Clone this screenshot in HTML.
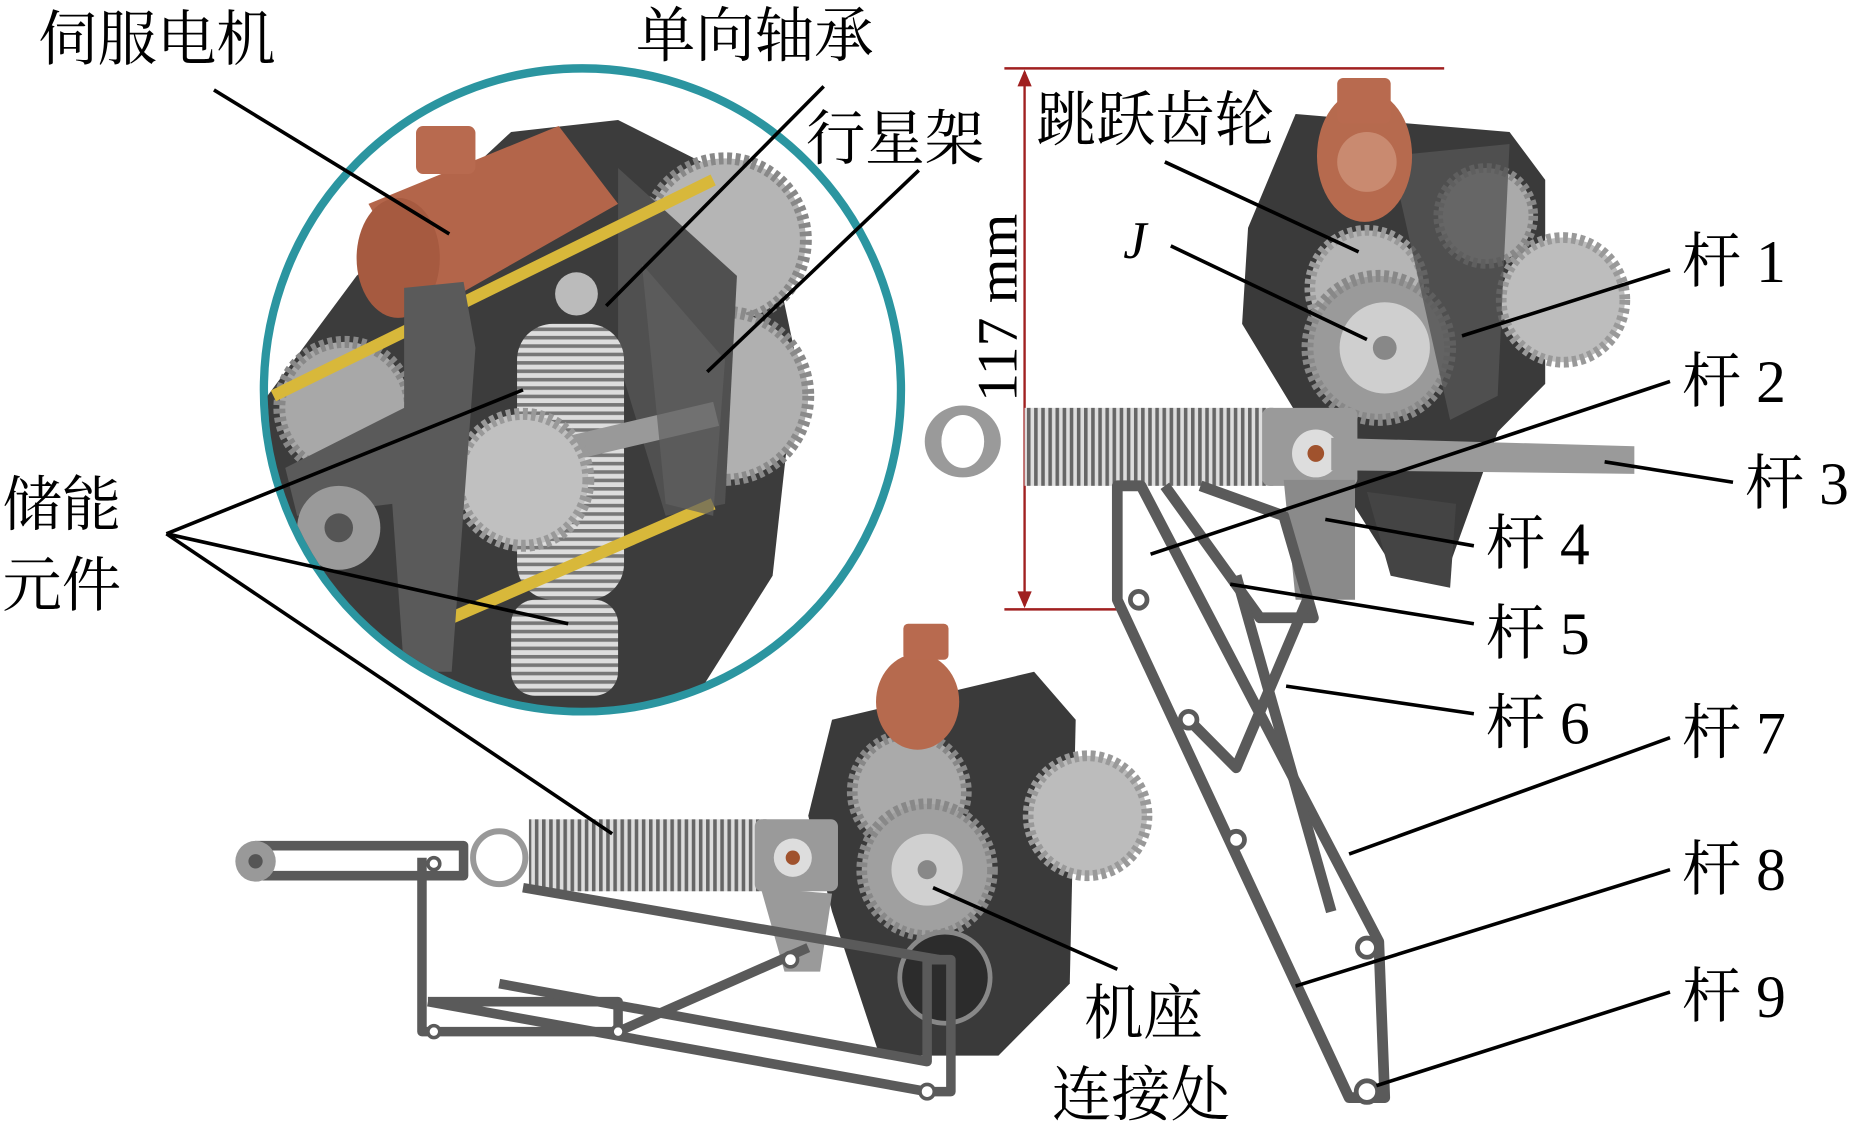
<!DOCTYPE html>
<html><head><meta charset="utf-8"><style>
html,body{margin:0;padding:0;background:#fff;width:1859px;height:1124px;overflow:hidden}
svg{display:block}
text{font-family:"Liberation Serif","Noto Serif CJK SC","Noto Sans CJK SC",serif;fill:#000}
</style></head><body>
<svg width="1859" height="1124" viewBox="0 0 1564 937" preserveAspectRatio="none" xmlns="http://www.w3.org/2000/svg">
<defs>
<pattern id="coil" width="6" height="10" patternUnits="userSpaceOnUse"><rect width="6" height="10" fill="#ddd"/><rect width="3" height="10" fill="#666"/></pattern>
<pattern id="coilv" width="10" height="7" patternUnits="userSpaceOnUse"><rect width="10" height="7" fill="#ddd"/><rect width="10" height="3" fill="#777"/></pattern>
</defs>
<rect width="1564" height="937" fill="#fff"/>

<!-- ===== Zoom circle ===== -->
<ellipse cx="490" cy="325" rx="268" ry="268" fill="#fff" stroke="#2b95a0" stroke-width="7"/>
<clipPath id="cc"><ellipse cx="490" cy="325" rx="265" ry="265"/></clipPath>
<g clip-path="url(#cc)">
  <path d="M430 110 L520 100 L640 160 L670 300 L650 480 L580 590 L380 600 L240 560 L225 330 L300 230 Z" fill="#3c3c3c"/>
  <!-- right gears -->
  <circle cx="610" cy="200" r="68" fill="#b5b5b5" stroke="#888" stroke-width="10" stroke-dasharray="4 3"/>
  <circle cx="610" cy="330" r="70" fill="#b0b0b0" stroke="#8a8a8a" stroke-width="10" stroke-dasharray="4 3"/>
  <path d="M520 140 L620 230 L610 420 L560 430 L520 300 Z" fill="#505050"/>
  <!-- left gear -->
  <circle cx="290" cy="340" r="55" fill="#a8a8a8" stroke="#888" stroke-width="10" stroke-dasharray="4 3"/>
  <!-- spring -->
  <rect x="435" y="270" width="90" height="230" fill="url(#coilv)" rx="30"/>
  <rect x="430" y="500" width="90" height="80" fill="url(#coilv)" rx="20"/>
  <!-- shaft -->
  <path d="M450 370 L600 335 L605 355 L455 390 Z" fill="#999"/>
  <!-- middle gear -->
  <circle cx="440" cy="400" r="55" fill="#c0c0c0" stroke="#999" stroke-width="10" stroke-dasharray="4 3"/>
  <!-- yellow rods -->
  <path d="M230 330 L600 150" stroke="#d8b83a" stroke-width="10"/>
  <path d="M380 515 L600 420" stroke="#d8b83a" stroke-width="10"/>
  <!-- motor -->
  <path d="M310 170 L470 105 L520 170 L360 260 Z" fill="#b3654a"/>
  <ellipse cx="335" cy="215" rx="35" ry="50" fill="#a65a40"/>
  <rect x="350" y="105" width="50" height="40" rx="6" fill="#b86a4f"/>
  <!-- frame plate -->
  <path d="M340 240 L390 235 L400 290 L380 560 L340 560 L330 420 L250 430 L240 390 L340 340 Z" fill="#5a5a5a"/>
  <circle cx="285" cy="440" r="35" fill="#9a9a9a"/><circle cx="285" cy="440" r="12" fill="#555"/>
  <circle cx="485" cy="245" r="18" fill="#bbb"/>
  <path d="M540 220 L610 300 L600 430 L560 420 Z" fill="#606060" opacity=".7"/>
</g>

<!-- ===== dimension ===== -->
<line x1="845" y1="57" x2="1215" y2="57" stroke="#a02020" stroke-width="2"/>
<line x1="845" y1="508" x2="940" y2="508" stroke="#a02020" stroke-width="2"/>
<line x1="862" y1="60" x2="862" y2="505" stroke="#a02020" stroke-width="2"/>
<path d="M856 72 L862 58 L868 72 Z" fill="#a02020"/>
<path d="M856 493 L862 507 L868 493 Z" fill="#a02020"/>
<text transform="translate(855,335) rotate(-90)" font-size="48">117 mm</text>

<!-- ===== right mechanism ===== -->
<path d="M1090 95 L1270 110 L1300 150 L1300 320 L1260 360 L1220 470 L1170 470 L1100 360 L1045 270 L1050 190 Z" fill="#3a3a3a"/>
<circle cx="1315" cy="250" r="52" fill="#bdbdbd" stroke="#999" stroke-width="9" stroke-dasharray="4 3"/>
<circle cx="1250" cy="180" r="40" fill="#aaa" stroke="#888" stroke-width="8" stroke-dasharray="4 3"/>
<circle cx="1150" cy="240" r="48" fill="#b5b5b5" stroke="#999" stroke-width="9" stroke-dasharray="4 3"/>
<circle cx="1160" cy="290" r="60" fill="#9a9a9a" stroke="#888" stroke-width="10" stroke-dasharray="4 3"/>
<path d="M1170 130 L1270 120 L1260 330 L1220 350 Z" fill="#555" opacity=".8"/>
<circle cx="1165" cy="290" r="38" fill="#cfcfcf"/><circle cx="1165" cy="290" r="10" fill="#888"/>
<ellipse cx="1148" cy="130" rx="40" ry="55" fill="#b66a4e"/>
<circle cx="1150" cy="135" r="25" fill="#c98a70"/>
<rect x="1125" y="65" width="45" height="38" rx="5" fill="#b86a4f"/>
<!-- spring -->
<ellipse cx="810" cy="368" rx="32" ry="30" fill="#9a9a9a"/>
<ellipse cx="810" cy="368" rx="18" ry="22" fill="#fff"/>
<rect x="862" y="340" width="210" height="65" fill="url(#coil)"/>
<rect x="1062" y="340" width="80" height="65" rx="6" fill="#9a9a9a"/>
<circle cx="1107" cy="378" r="20" fill="#ddd"/><circle cx="1107" cy="378" r="7" fill="#a0522d"/>
<path d="M1120 365 L1375 372 L1375 395 L1120 392 Z" fill="#9a9a9a"/>
<path d="M1080 400 L1140 400 L1140 500 L1090 500 Z" fill="#8a8a8a"/>
<path d="M1150 410 L1225 420 L1220 490 L1170 480 Z" fill="#444"/>
<!-- long links -->
<g fill="none" stroke="#5a5a5a" stroke-width="9" stroke-linejoin="round">
  <path d="M940 405 L940 500 L1135 915 L1165 915 L1160 785 L960 405 Z"/>
  <path d="M980 405 L1060 515 L1105 515 L1080 430 L1010 405"/>
  <path d="M1040 480 L1120 760" />
  <path d="M1100 500 L1040 640 L1000 600"/>
</g>
<g fill="#fff" stroke="#5a5a5a" stroke-width="4">
  <circle cx="958" cy="500" r="7"/><circle cx="1000" cy="600" r="7"/><circle cx="1040" cy="700" r="7"/>
  <circle cx="1150" cy="790" r="8"/><circle cx="1150" cy="910" r="9"/>
</g>

<!-- ===== bottom mechanism ===== -->
<path d="M700 600 L870 560 L905 600 L900 820 L840 880 L740 880 L700 760 L680 680 Z" fill="#3a3a3a"/>
<circle cx="915" cy="680" r="50" fill="#bcbcbc" stroke="#999" stroke-width="9" stroke-dasharray="4 3"/>
<circle cx="765" cy="660" r="48" fill="#aaa" stroke="#888" stroke-width="9" stroke-dasharray="4 3"/>
<circle cx="780" cy="725" r="55" fill="#a0a0a0" stroke="#888" stroke-width="9" stroke-dasharray="4 3"/>
<circle cx="780" cy="725" r="30" fill="#d0d0d0"/><circle cx="780" cy="725" r="8" fill="#888"/>
<ellipse cx="772" cy="585" rx="35" ry="40" fill="#b66a4e"/>
<rect x="760" y="520" width="38" height="30" rx="4" fill="#b86a4f"/>
<circle cx="795" cy="815" r="38" fill="#2c2c2c" stroke="#888" stroke-width="4"/>
<rect x="445" y="683" width="200" height="60" fill="url(#coil)"/>
<rect x="635" y="683" width="70" height="60" rx="6" fill="#9a9a9a"/>
<circle cx="667" cy="715" r="16" fill="#ddd"/><circle cx="667" cy="715" r="6" fill="#a0522d"/>
<path d="M640 740 L700 745 L690 810 L660 810 Z" fill="#9a9a9a"/>
<circle cx="420" cy="715" r="22" fill="none" stroke="#999" stroke-width="5"/>
<g fill="none" stroke="#5a5a5a" stroke-width="8" stroke-linejoin="round">
  <path d="M215 705 L390 705 L390 730 L215 730 Z"/>
  <path d="M355 715 L355 860 L520 860 L520 835 L360 835"/>
  <path d="M360 835 L780 910 L800 910 L800 800 L780 800 L780 885 L420 820"/>
  <path d="M440 740 L790 800"/>
  <path d="M520 860 L680 790"/>
</g>
<circle cx="215" cy="718" r="17" fill="#999"/><circle cx="215" cy="718" r="6" fill="#555"/>
<g fill="#fff" stroke="#5a5a5a" stroke-width="3">
  <circle cx="365" cy="720" r="5"/><circle cx="365" cy="860" r="5"/><circle cx="520" cy="860" r="5"/><circle cx="780" cy="910" r="6"/><circle cx="665" cy="800" r="6"/>
</g>

<!-- ===== leader lines ===== -->
<g stroke="#000" stroke-width="3" fill="none">
  <line x1="180" y1="75" x2="378" y2="195"/>
  <line x1="693" y1="72" x2="510" y2="255"/>
  <line x1="773" y1="142" x2="595" y2="310"/>
  <line x1="140" y1="445" x2="440" y2="325"/>
  <line x1="140" y1="445" x2="478" y2="520"/>
  <line x1="140" y1="445" x2="515" y2="695"/>
  <line x1="980" y1="135" x2="1143" y2="210"/>
  <line x1="985" y1="205" x2="1150" y2="283"/>
  <line x1="1405" y1="225" x2="1230" y2="280"/>
  <line x1="1405" y1="318" x2="968" y2="462"/>
  <line x1="1458" y1="402" x2="1350" y2="385"/>
  <line x1="1240" y1="455" x2="1115" y2="433"/>
  <line x1="1240" y1="520" x2="1035" y2="487"/>
  <line x1="1240" y1="595" x2="1082" y2="572"/>
  <line x1="1405" y1="615" x2="1135" y2="712"/>
  <line x1="1405" y1="725" x2="1090" y2="822"/>
  <line x1="1405" y1="827" x2="1158" y2="905"/>
  <line x1="940" y1="808" x2="785" y2="740"/>
</g>

<!-- ===== labels ===== -->
<g font-size="50">
<text x="32" y="50">伺服电机</text>
<text x="535" y="47">单向轴承</text>
<text x="678" y="133">行星架</text>
<text x="2" y="438">储能</text>
<text x="2" y="505">元件</text>
<text x="872" y="117">跳跃齿轮</text>
<text x="945" y="215" font-style="italic" font-size="44">J</text>
<text x="1415" y="235">杆 1</text>
<text x="1415" y="335">杆 2</text>
<text x="1468" y="420">杆 3</text>
<text x="1250" y="470">杆 4</text>
<text x="1250" y="545">杆 5</text>
<text x="1250" y="620">杆 6</text>
<text x="1415" y="628">杆 7</text>
<text x="1415" y="742">杆 8</text>
<text x="1415" y="848">杆 9</text>
<text x="912" y="862">机座</text>
<text x="885" y="930">连接处</text>
</g>
</svg>
</body></html>
